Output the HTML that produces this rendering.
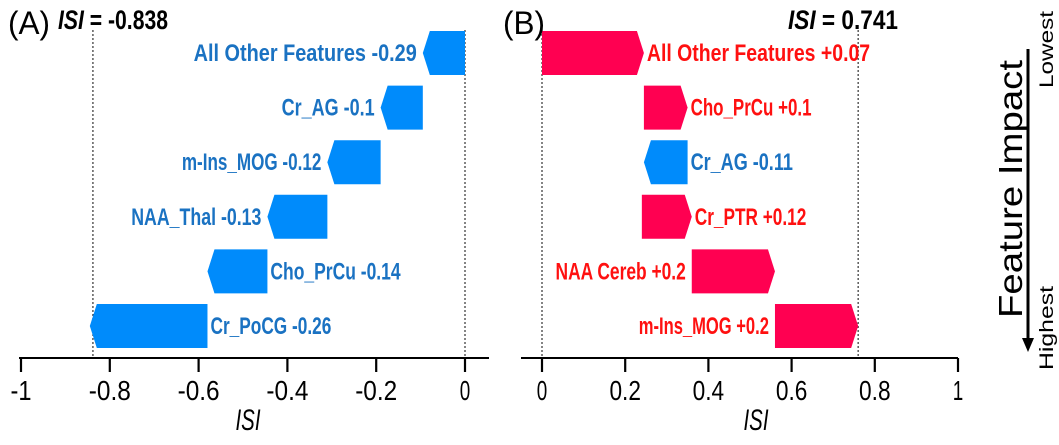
<!DOCTYPE html>
<html><head><meta charset="utf-8"><style>
html,body{margin:0;padding:0;background:#fff;}
svg{display:block;font-family:"Liberation Sans",sans-serif;}
</style></head><body>
<svg id="chart" width="1059" height="445" viewBox="0 0 1059 445"></svg>
<script>
// Panel A data
const aLabels = ["All Other Features", "Cr_AG", "m-Ins_MOG", "NAA_Thal", "Cho_PrCu", "Cr_PoCG"];
const aValueText = ["-0.29", "-0.1", "-0.12", "-0.13", "-0.14", "-0.26"];
const aStart = [0, -0.095, -0.19, -0.31, -0.445, -0.58];
const aEnd = [-0.095, -0.19, -0.31, -0.445, -0.58, -0.845];
const aTicks = [-1, -0.8, -0.6, -0.4, -0.2, 0];
const aTickText = ["-1", "-0.8", "-0.6", "-0.4", "-0.2", "0"];
const aISI = -0.838;
// Panel B data
const bLabels = ["All Other Features", "Cho_PrCu", "Cr_AG", "Cr_PTR", "NAA Cereb", "m-Ins_MOG"];
const bValueText = ["+0.07", "+0.1", "-0.11", "+0.12", "+0.2", "+0.2"];
const bStart = [0, 0.245, 0.35, 0.24, 0.36, 0.56];
const bEnd = [0.245, 0.35, 0.245, 0.36, 0.56, 0.76];
const bTicks = [0, 0.2, 0.4, 0.6, 0.8, 1];
const bTickText = ["0", "0.2", "0.4", "0.6", "0.8", "1"];
const bISI = 0.741;
const bISILine = 0.76;

const NS = "http://www.w3.org/2000/svg";
const svg = document.getElementById("chart");
function mk(tag, attrs, parent) {
  const e = document.createElementNS(NS, tag);
  for (const k in attrs) e.setAttribute(k, attrs[k]);
  (parent || svg).appendChild(e);
  return e;
}
const BLUE = "#008bfb", RED = "#ff0051", BLUET = "#1a72c2", REDT = "#ff1010";
const rowTop = 31, rowStep = 54.6, barH = 44, axisY = 358;

function panel(cfg) {
  const g = mk("g", {});
  
  
  const x = v => cfg.x0 + (v - cfg.vmin) * cfg.scale;
  [cfg.base, cfg.isiLine].forEach((v, i) => {
    const l = mk("line", {x1: x(v), x2: x(v), y1: 30, y2: axisY, stroke: "#333", "stroke-width": 1.2, "stroke-dasharray": "2,2"}, g);
    
    
  });
  const ax = mk("line", {x1: cfg.axL, x2: cfg.axR, y1: axisY, y2: axisY, stroke: "#000", "stroke-width": 2}, g);
  
  
  cfg.ticks.forEach((t, i) => {
    const tk = mk("line", {x1: x(t), x2: x(t), y1: axisY, y2: axisY + 14, stroke: "#000", "stroke-width": 2.2}, g);
    
    
    const tl = mk("text", {x: x(t), y: axisY + 42, "text-anchor": "middle", "font-size": 28, fill: "#000", textLength: cfg.tickText[i].length * 10.5, lengthAdjust: "spacingAndGlyphs"}, g);
    tl.textContent = cfg.tickText[i];
    
    
  });
  const xt = mk("text", {x: cfg.titleX, y: 430, "text-anchor": "middle", "font-size": 30, "font-style": "italic", fill: "#000", textLength: 25, lengthAdjust: "spacingAndGlyphs"}, g);
  xt.textContent = "ISI";
  
  
  cfg.start.forEach((s, i) => {
    const e = cfg.end[i];
    const y0 = rowTop + i * rowStep, y1 = y0 + barH, ym = y0 + barH / 2;
    const neg = e < s;
    const xs = x(s), xe = x(e), tip = 7;
    let pts;
    if (neg) pts = [[xs, y0], [xe + tip, y0], [xe, ym], [xe + tip, y1], [xs, y1]];
    else pts = [[xs, y0], [xe - tip, y0], [xe, ym], [xe - tip, y1], [xs, y1]];
    const p = mk("polygon", {points: pts.map(q => q.join(",")).join(" "), fill: neg ? BLUE : RED}, g);
    
    
    const nm = cfg.labels[i], vt = cfg.valText[i];
    const right = cfg.labelSide[i] === "L";
    const lx = right ? Math.min(xs, xe) - 6 : Math.max(xs, xe) + 3;
    const len = (nm.length + 1 + vt.length) * 9.3;
    const t = mk("text", {x: lx, y: ym + 8, "text-anchor": right ? "end" : "start", "font-size": 24, "font-weight": "bold", fill: neg ? BLUET : REDT, textLength: len, lengthAdjust: "spacingAndGlyphs"}, g);
    t.textContent = nm + " " + vt;
    
    
  });
  const lab = mk("text", {x: cfg.letterX, y: 34, "font-size": 32, fill: "#000", textLength: 42, lengthAdjust: "spacingAndGlyphs"}, g);
  lab.textContent = cfg.letter;
  
  
  const it = mk("text", {x: cfg.isiX, y: 29, "font-size": 27, "font-weight": "bold", fill: "#000", textLength: 110, lengthAdjust: "spacingAndGlyphs"}, g);
  it.innerHTML = '<tspan font-style="italic">ISI</tspan> = ' + cfg.isiText;
  
  
}

panel({name: "panel-a", x0: 21, vmin: -1, scale: 444, base: 0, isiLine: aISI, axL: 19, axR: 489,
  ticks: aTicks, tickText: aTickText, titleX: 248, start: aStart, end: aEnd, labels: aLabels, valText: aValueText,
  labelSide: ["L", "L", "L", "L", "R", "R"], letter: "(A)", letterX: 8, isiX: 58, isiText: aISI.toFixed(3)});
panel({name: "panel-b", x0: 542, vmin: 0, scale: 416, base: 0, isiLine: bISILine, axL: 521, axR: 958,
  ticks: bTicks, tickText: bTickText, titleX: 756, start: bStart, end: bEnd, labels: bLabels, valText: bValueText,
  labelSide: ["R", "R", "R", "R", "L", "L"], letter: "(B)", letterX: 503, isiX: 788, isiText: bISI.toFixed(3)});

const fi = mk("text", {x: 0, y: 0, "font-size": 33, fill: "#000", transform: "translate(1022,318) rotate(-90)", textLength: 258, lengthAdjust: "spacingAndGlyphs"});
fi.textContent = "Feature Impact";


const arr = mk("line", {x1: 1028, x2: 1028, y1: 49, y2: 340, stroke: "#000", "stroke-width": 3});


const ah = mk("polygon", {points: "1022,338 1034,338 1028,352", fill: "#000"});


const lo = mk("text", {x: 0, y: 0, "font-size": 19, fill: "#000", transform: "translate(1053,88) rotate(-90)", textLength: 77, lengthAdjust: "spacingAndGlyphs"});
lo.textContent = "Lowest";


const hi = mk("text", {x: 0, y: 0, "font-size": 19, fill: "#000", transform: "translate(1053,370) rotate(-90)", textLength: 84, lengthAdjust: "spacingAndGlyphs"});
hi.textContent = "Highest";


</script>
</body></html>
